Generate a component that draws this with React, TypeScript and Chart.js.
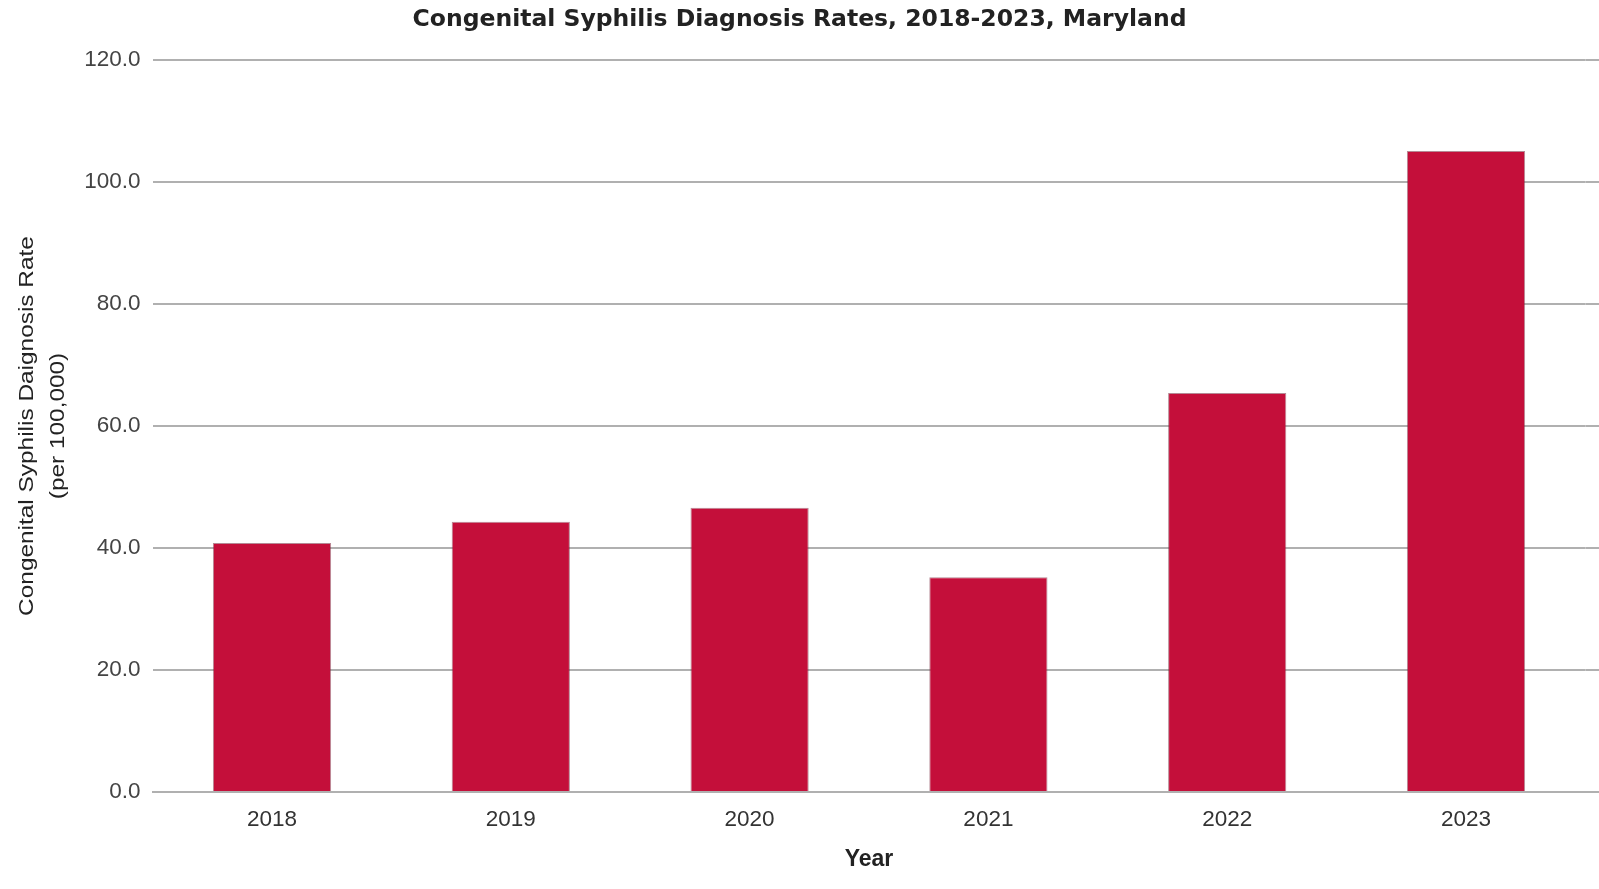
import React, { useEffect, useRef } from "react";
import { Chart, registerables } from "chart.js";

Chart.register(...registerables);

const categories: string[] = ["2018", "2019", "2020", "2021", "2022", "2023"];
const rates: number[] = [40.8, 44.3, 46.6, 35.2, 65.4, 105.1];
const chartTitle = "Congenital Syphilis Diagnosis Rates, 2018-2023, Maryland";
const yTitle: string[] = ["Congenital Syphilis Daignosis Rate", "(per 100,000)"];
const xTitle = "Year";

const GRID = "#b0b0b0";
const TICK_FONT = "'Liberation Sans', Arial, sans-serif";

// extends the horizontal gridlines to the right edge of the canvas
const gridExtend = {
  id: "gridExtend",
  beforeDatasetsDraw(chart: any) {
    const { ctx, chartArea, scales } = chart;
    const y = scales.y;
    ctx.save();
    ctx.strokeStyle = GRID;
    ctx.lineWidth = 2;
    y.ticks.forEach((t: any) => {
      const py = y.getPixelForValue(t.value);
      ctx.beginPath();
      ctx.moveTo(chartArea.right, py);
      ctx.lineTo(chart.width, py);
      ctx.stroke();
    });
    ctx.restore();
  },
};

// y axis title drawn rotated, slightly condensed like the original
const yTitlePlugin = {
  id: "yTitlePlugin",
  afterDraw(chart: any) {
    const { ctx, chartArea } = chart;
    const cy = (chartArea.top + chartArea.bottom) / 2;
    const xs = [27, 58];
    ctx.save();
    ctx.fillStyle = "#222";
    ctx.font = `20px ${TICK_FONT}`;
    ctx.textAlign = "center";
    ctx.textBaseline = "middle";
    yTitle.forEach((line, i) => {
      ctx.save();
      ctx.translate(xs[i], cy);
      ctx.rotate(-Math.PI / 2);
      ctx.scale(1.22, 1);
      ctx.fillText(line, 0, 0);
      ctx.restore();
    });
    ctx.restore();
  },
};

export default function App() {
  const ref = useRef<HTMLCanvasElement | null>(null);
  useEffect(() => {
    if (!ref.current) return;
    const chart = new Chart(ref.current, {
      type: "bar",
      data: {
        labels: categories,
        datasets: [
          {
            label: "Rate",
            data: rates,
            backgroundColor: "#c40f3a",
            borderColor: "rgba(120,40,60,0.55)",
            borderWidth: 1,
            barPercentage: 0.5,
            categoryPercentage: 0.99,
          },
        ],
      },
      plugins: [gridExtend, yTitlePlugin],
      options: {
        animation: false,
        responsive: false,
        maintainAspectRatio: false,
        layout: { padding: { left: 13.6, right: 13.6, top: 0, bottom: 0 } },
        plugins: {
          legend: { display: false },
          tooltip: { enabled: false },
          title: {
            display: true,
            text: chartTitle,
            color: "#222",
            font: { family: "'DejaVu Sans', sans-serif", size: 23.5, weight: "bold", lineHeight: 1.2 },
            padding: { top: 6, bottom: 25.8 },
          },
        },
        scales: {
          x: {
            grid: { display: false, drawTicks: false },
            border: { display: true, color: GRID, width: 2 },
            ticks: {
              color: "#333",
              font: { family: TICK_FONT, size: 22.5 },
              padding: 14,
            },
            title: {
              display: true,
              text: xTitle,
              color: "#222",
              font: { family: TICK_FONT, size: 23, weight: "bold", lineHeight: 1.2 },
              padding: { top: 0, bottom: 16 },
            },
            afterFit: (scale: any) => {
              scale.height = 97;
            },
          },
          y: {
            min: 0,
            max: 120,
            ticks: {
              stepSize: 20,
              color: "#444",
              font: { family: TICK_FONT, size: 22.5 },
              padding: 12,
              callback: (v: any) => Number(v).toFixed(1),
            },
            grid: { color: GRID, lineWidth: 2, drawTicks: false },
            border: { display: false },
            title: { display: false },
            afterFit: (scale: any) => {
              scale.width = 139;
            },
          },
        },
      },
    });
    return () => chart.destroy();
  }, []);
  return (
    <div style={{ position: "fixed", left: 0, top: 0, width: 1599, height: 889, background: "#fff" }}>
      <canvas ref={ref} width={1599} height={889} style={{ width: 1599, height: 889 }} />
    </div>
  );
}
